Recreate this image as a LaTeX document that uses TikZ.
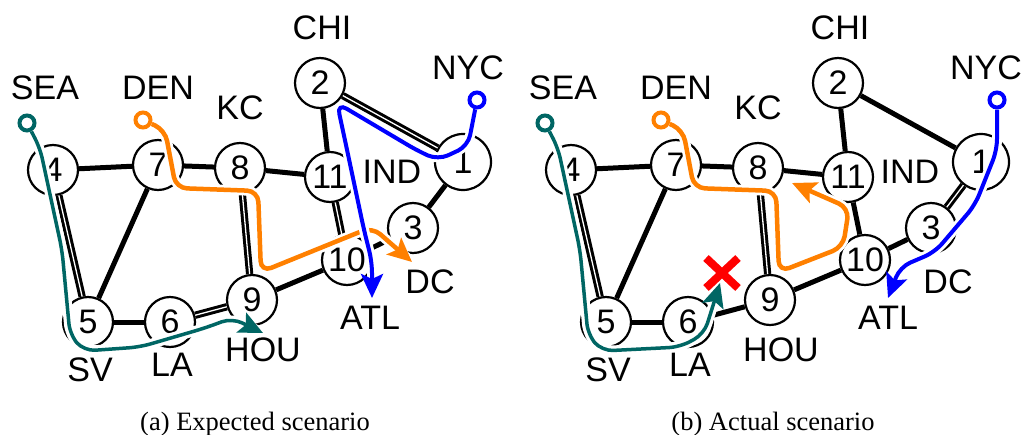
\documentclass[tikz,border=0pt]{standalone}
\usepackage{fontspec}
\setmainfont{Liberation Serif}
\newfontfamily\cityfont{Liberation Sans}
\usetikzlibrary{arrows.meta, shapes.misc}

\definecolor{flowteal}{RGB}{0,102,100}
\definecolor{floworange}{RGB}{255,128,0}
\definecolor{flowblue}{RGB}{0,0,255}

\tikzset{
	router/.style={circle, draw, line width=2.2pt, fill=white, inner sep=0pt, minimum size=50pt, font=\cityfont\fontsize{34}{34}\selectfont},
	city/.style={font=\cityfont\fontsize{34}{34}\selectfont},
	link/.style={line width=5pt},
	pathlink/.style={line width=3pt, double=white, double distance=1.3pt},
	src/.style={circle, draw=#1, line width=4pt, fill=white, minimum size=15pt, inner sep=0pt},
	flow/.style={draw=#1, rounded corners=11pt, preaction={draw=white, line width=10pt, -}, -{Stealth[length=24pt, width=22pt, inset=5pt]}},
	failmark/.style={cross out, draw=red, line width=8pt, minimum width=24pt, minimum height=22pt},
	caption/.style={font=\fontsize{26.5}{26.5}\selectfont, anchor=base}
}

\begin{document}
\begin{tikzpicture}[x=1pt, y=-1pt]
	\useasboundingbox (0,0) rectangle (1022,434);
	\foreach \p/\dx in {a/0, b/518} {
		\begin{scope}[xshift=\dx pt]
			\node[router, minimum size=56pt] (\p-1) at (463,162) {1};
			\node[router] (\p-2) at (320,83) {2};
			\node[router] (\p-3) at (413,228) {3};
			\node[router] (\p-4) at (53,170) {4};
			\node[router] (\p-5) at (88,322) {5};
			\node[router] (\p-6) at (170,322) {6};
			\node[router] (\p-7) at (158,165) {7};
			\node[router] (\p-8) at (240,168) {8};
			\node[router] (\p-9) at (252,300) {9};
			\node[router] (\p-10) at (347,260) {10};
			\node[router] (\p-11) at (330,177) {11};
			\node[city] (\p-chi) at (322,28) {CHI};
			\node[city] (\p-nyc) at (468,68) {NYC};
			\node[city] (\p-sea) at (45,88) {SEA};
			\node[city] (\p-den) at (158,88) {DEN};
			\node[city] (\p-kc) at (240,108) {KC};
			\node[city] (\p-ind) at (392,172) {IND};
			\node[city] (\p-dc) at (430,282) {DC};
			\node[city] (\p-atl) at (370,318) {ATL};
			\node[city] (\p-hou) at (263,350) {HOU};
			\node[city] (\p-sv) at (90,370) {SV};
			\node[city] (\p-la) at (172,365) {LA};
			\foreach \u/\v in {4/7, 7/8, 8/11, 11/2, 2/1, 1/3, 3/10, 10/11, 10/9, 9/8, 9/6, 6/5, 5/4, 5/7}
				\draw[link] (\p-\u) -- (\p-\v);
		\end{scope}
	}
	% links that carry a flow
	\draw[pathlink] (a-4) -- (a-5);
	\draw[pathlink] (a-6) -- (a-9);
	\draw[pathlink] (a-8) -- (a-9);
	\draw[pathlink] (a-2) -- (a-1);
	\draw[pathlink] (a-11) -- (a-10);
	\draw[pathlink] (b-4) -- (b-5);
	\draw[pathlink] (b-8) -- (b-9);
	\draw[pathlink] (b-1) -- (b-3);

	% (a)
	\node[src=flowteal] (a-seasrc) at (27,123) {};
	\node[src=floworange] (a-densrc) at (143,120) {};
	\node[src=flowblue] (a-nycsrc) at (477,100) {};
	\coordinate (a-houtip) at (263,333);
	\coordinate (a-dctip) at (412,262);
	\coordinate (a-atltip) at (372,298);
	\draw[flow=flowteal, line width=3.5pt] (a-seasrc) -- (40,148) -- (62,250) -- (70,335) -- (84,351) -- (140,347) -- (205,328) -- (232,318) -- (a-houtip);
	\draw[flow=floworange, line width=4.5pt] (a-densrc) -- (165,130) -- (176,188) -- (258,191) -- (261,272) -- (372,227) -- (a-dctip);
	\draw[flow=flowblue, line width=4pt] (a-nycsrc) -- (468,146) -- (438,160) -- (418,151) -- (337,103) -- (346,145) -- (364,230) -- (372,262) -- (a-atltip);
	\node[caption] (a-caption) at (255,430) {(a) Expected scenario};

	% (b)
	\node[src=flowteal] (b-seasrc) at (545,123) {};
	\node[src=floworange] (b-densrc) at (661,120) {};
	\node[src=flowblue] (b-nycsrc) at (997,100) {};
	\coordinate (b-houtip) at (720,283);
	\coordinate (b-kctip) at (792,183);
	\coordinate (b-atltip) at (888,298);
	\draw[flow=flowteal, line width=3.5pt] (b-seasrc) -- (558,148) -- (580,250) -- (588,335) -- (602,351) -- (680,347) -- (704,334) -- (711,312) -- (b-houtip);
	\draw[flow=floworange, line width=4.5pt] (b-densrc) -- (683,130) -- (694,188) -- (776,191) -- (779,272) -- (843,247) -- (849,208) -- (b-kctip);
	\draw[flow=flowblue, line width=4pt] (b-nycsrc) -- (997,150) -- (975,205) -- (935,252) -- (900,267) -- (b-atltip);
	\node[failmark] (b-fail) at (722,273) {};
	\node[caption] (b-caption) at (773,430) {(b) Actual scenario};
\end{tikzpicture}
\end{document}
